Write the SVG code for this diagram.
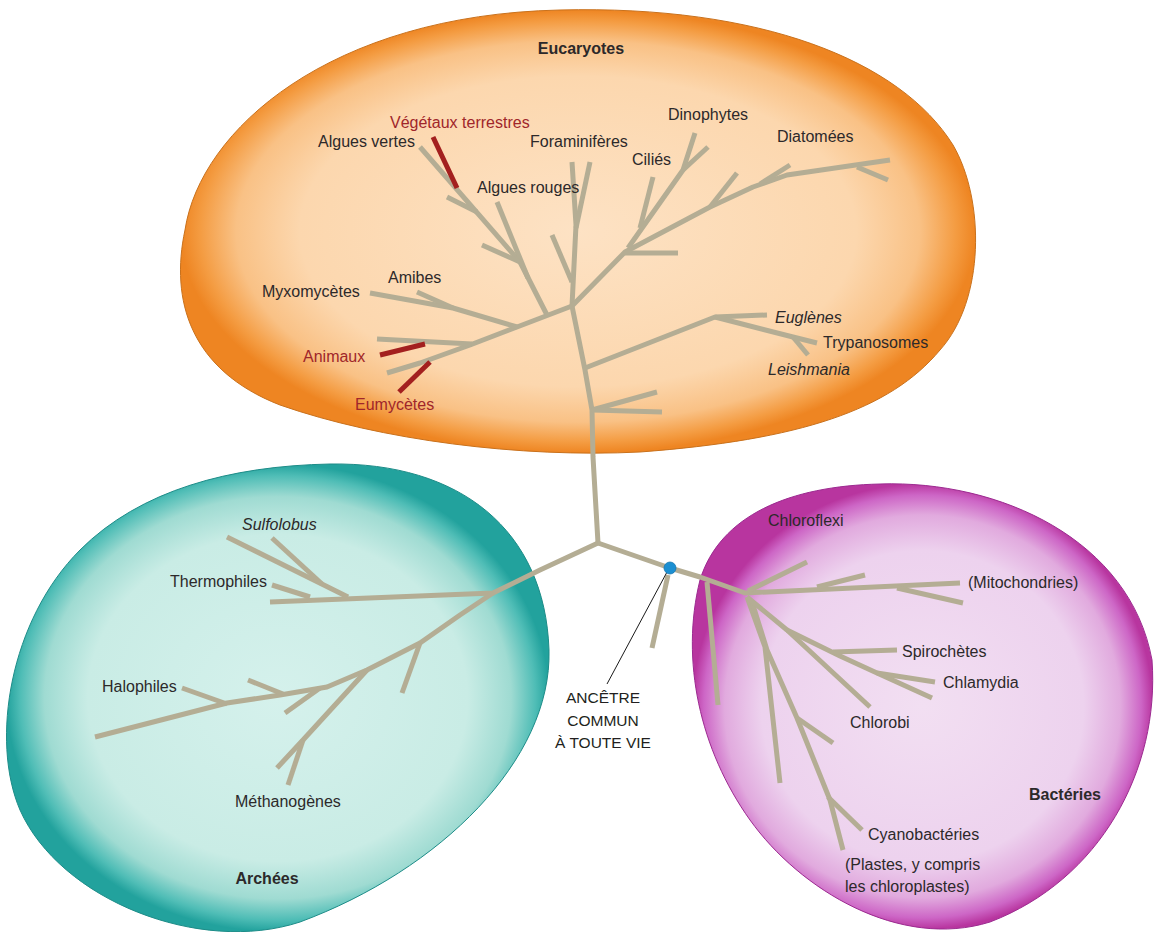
<svg xmlns="http://www.w3.org/2000/svg" width="1159" height="932" viewBox="0 0 1159 932">
<defs>
<radialGradient id="gOr" cx="50%" cy="50%" r="50%">
<stop offset="0" stop-color="#fde2c4"/>
<stop offset="0.7" stop-color="#fcd7ae"/>
<stop offset="0.86" stop-color="#f9c185"/>
<stop offset="0.95" stop-color="#f49c42"/>
<stop offset="1" stop-color="#ee8522"/>
</radialGradient>
<radialGradient id="gTe" cx="50%" cy="50%" r="50%">
<stop offset="0" stop-color="#d5f1ec"/>
<stop offset="0.7" stop-color="#c9ece5"/>
<stop offset="0.86" stop-color="#9fdbd2"/>
<stop offset="0.95" stop-color="#4fbdb6"/>
<stop offset="1" stop-color="#22a29d"/>
</radialGradient>
<radialGradient id="gMa" cx="50%" cy="50%" r="50%">
<stop offset="0" stop-color="#f2dff2"/>
<stop offset="0.7" stop-color="#edd2ee"/>
<stop offset="0.86" stop-color="#e1aade"/>
<stop offset="0.95" stop-color="#cd66c6"/>
<stop offset="1" stop-color="#b8359f"/>
</radialGradient>
<style>
text{font-family:"Liberation Sans",Arial,sans-serif;font-size:16px;fill:#2c292a}
.red{fill:#a0262a}
.it{font-style:italic}
.ttl{font-weight:bold;text-anchor:middle}
.anc{font-size:15.5px;text-anchor:middle;fill:#221f20}
.br polyline{fill:none;stroke:#b4ad94;stroke-width:5;stroke-linejoin:round}
.br polyline.rd{stroke:#a3201f}
</style>
</defs>
<rect width="1159" height="932" fill="#ffffff"/>
<g id="eucaryotes">
<path d="M 560,10 C 760,5 900,60 953,145 C 985,200 985,300 940,350 C 890,410 800,440 640,452 C 520,458 380,440 280,405 C 190,370 170,300 185,230 C 200,130 330,15 560,10 Z" fill="url(#gOr)" stroke="#c9711c" stroke-width="1"/>
<text class="ttl" x="581" y="54">Eucaryotes</text>
</g>
<g id="archees">
<path d="M 330,464 C 460,462 545,530 549,650 C 552,760 440,870 300,922 C 200,955 60,900 20,810 C -10,740 10,620 80,550 C 140,490 230,466 330,464 Z" fill="url(#gTe)" stroke="#1d8c88" stroke-width="1"/>
<text class="ttl" x="267" y="884">Archées</text>
</g>
<g id="bacteries">
<path d="M 880,484 C 1000,480 1130,540 1152,660 C 1160,770 1100,880 990,922 C 900,950 800,890 750,820 C 700,750 680,660 700,580 C 720,515 790,486 880,484 Z" fill="url(#gMa)" stroke="#9c2a90" stroke-width="1"/>
<text class="ttl" x="1065" y="800">Bactéries</text>
</g>
<g id="connectors" class="br">
<polyline points="598,543 593,457 592,410 585,370 572,306 576,225 572,162"/>
<polyline points="576,228 590,162"/>
<polyline points="552,235 572,282"/>
<polyline points="572,306 517,327 470,345 420,363 387,373"/>
<polyline points="517,327 453,308 370,293"/>
<polyline points="453,308 417,292"/>
<polyline points="472,344 377,339"/>
<polyline points="547,315 520,262 420,147"/>
<polyline points="528,278 497,202"/>
<polyline points="520,262 482,245"/>
<polyline points="477,212 447,197"/>
<polyline points="572,306 625,252 710,207 753,187 787,175 890,160"/>
<polyline points="625,253 678,253"/>
<polyline points="628,248 683,170 695,133"/>
<polyline points="683,170 708,147"/>
<polyline points="640,228 653,177"/>
<polyline points="710,207 737,173"/>
<polyline points="760,184 790,165"/>
<polyline points="857,167 888,180"/>
<polyline points="585,368 715,317 767,315"/>
<polyline points="715,317 793,337 817,343"/>
<polyline points="793,337 808,355"/>
<polyline points="592,410 657,392"/>
<polyline points="592,410 662,412"/>
<polyline points="598,543 540,570 493,593 270,602"/>
<polyline points="493,593 460,615 420,643 367,670 327,687 280,695 227,703 95,737"/>
<polyline points="348,597 227,537"/>
<polyline points="322,584 272,538"/>
<polyline points="310,597 272,585"/>
<polyline points="420,643 402,693"/>
<polyline points="367,670 303,740 277,768"/>
<polyline points="303,740 288,785"/>
<polyline points="320,688 285,713"/>
<polyline points="283,694 248,680"/>
<polyline points="227,704 182,688"/>
<polyline points="598,543 670,568 700,577 745,593 960,583"/>
<polyline points="707,582 718,705"/>
<polyline points="748,591 807,562"/>
<polyline points="817,587 865,575"/>
<polyline points="897,588 963,603"/>
<polyline points="747,597 765,647 780,783"/>
<polyline points="752,602 767,650 797,718 830,800 843,850"/>
<polyline points="797,718 833,743"/>
<polyline points="828,797 862,830"/>
<polyline points="747,597 787,630 870,707"/>
<polyline points="787,630 840,656 877,673 932,698"/>
<polyline points="833,652 897,650"/>
<polyline points="877,673 935,682"/>
<polyline points="668,575 652,648"/>
<polyline class="rd" points="425,344 380,355"/>
<polyline class="rd" points="430,362 399,392"/>
<polyline class="rd" points="457,188 433,137"/>
<line x1="667" y1="572" x2="607" y2="684" stroke="#1a1a1a" stroke-width="1"/>
</g>
<g id="ancetre">
<circle cx="670" cy="568" r="6" fill="#1b8fd2" stroke="#1576b0" stroke-width="0.8"/>
<text class="anc" x="603" y="703">ANCÊTRE</text>
<text class="anc" x="603" y="726">COMMUN</text>
<text class="anc" x="603" y="748">À TOUTE VIE</text>
</g>
<g id="labels">
<text id="l-vegetaux" class="red" x="390" y="128">Végétaux terrestres</text>
<text id="l-alguesvertes" x="318" y="147">Algues vertes</text>
<text id="l-foram" x="530" y="147">Foraminifères</text>
<text id="l-alguesrouges" x="477" y="193">Algues rouges</text>
<text id="l-dino" x="668" y="120">Dinophytes</text>
<text id="l-cilies" x="632" y="165">Ciliés</text>
<text id="l-diatom" x="777" y="142">Diatomées</text>
<text id="l-amibes" x="388" y="283">Amibes</text>
<text id="l-myxo" x="262" y="297">Myxomycètes</text>
<text id="l-animaux" class="red" x="303" y="362">Animaux</text>
<text id="l-eumy" class="red" x="355" y="410">Eumycètes</text>
<text id="l-euglenes" class="it" x="775" y="323">Euglènes</text>
<text id="l-trypano" x="823" y="348">Trypanosomes</text>
<text id="l-leish" class="it" x="768" y="375">Leishmania</text>
<text id="l-sulfo" class="it" x="242" y="530">Sulfolobus</text>
<text id="l-thermo" x="170" y="587">Thermophiles</text>
<text id="l-halo" x="102" y="692">Halophiles</text>
<text id="l-metha" x="235" y="807">Méthanogènes</text>
<text id="l-chloroflexi" x="768" y="526">Chloroflexi</text>
<text id="l-mito" x="968" y="588">(Mitochondries)</text>
<text id="l-spiro" x="902" y="657">Spirochètes</text>
<text id="l-chlam" x="943" y="688">Chlamydia</text>
<text id="l-chlorobi" x="850" y="728">Chlorobi</text>
<text id="l-cyano" x="868" y="840">Cyanobactéries</text>
<text id="l-plastes1" x="845" y="870">(Plastes, y compris</text>
<text id="l-plastes2" x="845" y="892">les chloroplastes)</text>
</g>
</svg>
